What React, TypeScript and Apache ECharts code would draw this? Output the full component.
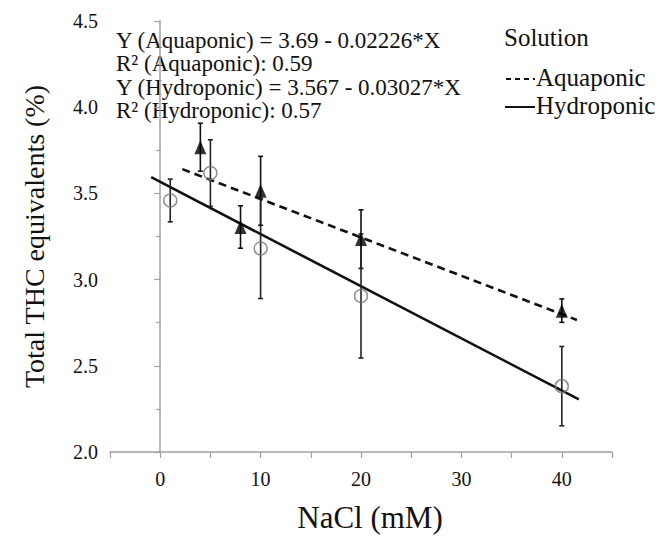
import React, { useEffect, useRef } from "react";
import * as echarts from "echarts";

// ---- data ----
const aquaX = [4, 8, 10, 20, 40];
const aquaMean = [3.768, 3.305, 3.515, 3.235, 2.82];
const aquaErr = [0.139, 0.123, 0.2, 0.17, 0.068];

const hydroX = [1, 5, 10, 20, 40];
const hydroMean = [3.459, 3.618, 3.18, 2.905, 2.382];
const hydroErr = [0.124, 0.193, 0.29, 0.36, 0.23];

// fitted regression lines (endpoints as drawn)
const aquaFitX = [2.2, 41.5];
const aquaFitY = [3.641, 2.766];
const hydroFitX = [-0.9, 41.7];
const hydroFitY = [3.594, 2.305];

const annotationLines = [
  "Y (Aquaponic) = 3.69 - 0.02226*X",
  "R\u00B2 (Aquaponic): 0.59",
  "Y (Hydroponic) = 3.567 - 0.03027*X",
  "R\u00B2 (Hydroponic): 0.57",
];

const legendTitle = "Solution";
const legendNames = ["Aquaponic", "Hydroponic"];

const FONT = "Liberation Serif";
const AXIS_COLOR = "#a0a0a0";

function errorBarSeries(xs: number[], means: number[], errs: number[], color: string) {
  const data = xs.map((x, i) => [x, means[i] - errs[i], means[i] + errs[i]]);
  return {
    type: "custom",
    silent: true,
    z: 2,
    renderItem: (params: any, api: any) => {
      const x = api.value(0);
      const lo = api.coord([x, api.value(1)]);
      const hi = api.coord([x, api.value(2)]);
      const cap = 2.5;
      const style = { stroke: color, lineWidth: 1.6 };
      return {
        type: "group",
        children: [
          { type: "line", shape: { x1: lo[0], y1: lo[1], x2: hi[0], y2: hi[1] }, style },
          { type: "line", shape: { x1: lo[0] - cap, y1: lo[1], x2: lo[0] + cap, y2: lo[1] }, style },
          { type: "line", shape: { x1: hi[0] - cap, y1: hi[1], x2: hi[0] + cap, y2: hi[1] }, style },
        ],
      };
    },
    encode: { x: 0, y: [1, 2] },
    data,
  };
}

export default function App() {
  const ref = useRef<HTMLDivElement>(null);

  useEffect(() => {
    if (!ref.current) return;
    const chart = echarts.init(ref.current, undefined, { renderer: "svg" });

    const annY = [41, 64, 88, 111];

    const option: any = {
      animation: false,
      backgroundColor: "#fff",
      textStyle: { fontFamily: FONT },
      grid: { left: 110, top: 21, width: 502, height: 440, containLabel: false },
      xAxis: {
        type: "value",
        min: -5,
        max: 45,
        interval: 5,
        name: "NaCl (mM)",
        nameLocation: "middle",
        nameGap: 50,
        nameTextStyle: { fontFamily: FONT, fontSize: 31, color: "#111", padding: [0, 0, 0, 18] },
        axisLine: { show: true, lineStyle: { color: AXIS_COLOR, width: 1.5 } },
        axisTick: { show: true, length: 6, lineStyle: { color: AXIS_COLOR, width: 1.2 } },
        splitLine: { show: false },
        axisLabel: {
          fontFamily: FONT,
          fontSize: 20,
          color: "#111",
          margin: 17,
          formatter: (v: number) => (v >= 0 && v <= 40 && v % 10 === 0 ? String(v) : ""),
        },
      },
      yAxis: {
        type: "value",
        min: 2,
        max: 4.5,
        interval: 0.5,
        name: "Total THC equivalents (%)",
        nameLocation: "middle",
        nameRotate: 90,
        nameGap: 62,
        nameTextStyle: { fontFamily: FONT, fontSize: 28, color: "#111" },
        axisLine: { show: true, lineStyle: { color: AXIS_COLOR, width: 1.5 } },
        axisTick: { show: true, length: 6, lineStyle: { color: AXIS_COLOR, width: 1.2 } },
        minorTick: { show: true, splitNumber: 2, length: 4, lineStyle: { color: AXIS_COLOR, width: 1.2 } },
        splitLine: { show: false },
        axisLabel: {
          fontFamily: FONT,
          fontSize: 20,
          color: "#111",
          margin: 12,
          formatter: (v: number) => v.toFixed(1),
        },
      },
      series: [
        {
          name: "Aquaponic fit",
          type: "line",
          symbol: "none",
          z: 1,
          lineStyle: { color: "#111", width: 2.6, type: [8, 5] },
          data: aquaFitX.map((x, i) => [x, aquaFitY[i]]),
        },
        {
          name: "Hydroponic fit",
          type: "line",
          symbol: "none",
          z: 1,
          lineStyle: { color: "#111", width: 2.6, type: "solid" },
          data: hydroFitX.map((x, i) => [x, hydroFitY[i]]),
        },
        errorBarSeries(aquaX, aquaMean, aquaErr, "#111"),
        errorBarSeries(hydroX, hydroMean, hydroErr, "#222"),
        {
          name: "Aquaponic",
          type: "scatter",
          symbol: "triangle",
          symbolSize: [12, 14],
          z: 3,
          itemStyle: { color: "#000" },
          data: aquaX.map((x, i) => [x, aquaMean[i]]),
        },
        {
          name: "Hydroponic",
          type: "scatter",
          symbol: "circle",
          symbolSize: 13,
          z: 3,
          itemStyle: { color: "rgba(255,255,255,0)", borderColor: "#777", borderWidth: 1.5 },
          data: hydroX.map((x, i) => [x, hydroMean[i]]),
        },
      ],
      graphic: [
        ...annotationLines.map((t, i) => ({
          type: "text",
          left: 116,
          top: annY[i] - 12,
          style: { text: t, fontFamily: FONT, fontSize: 23, fill: "#111" },
        })),
        {
          type: "text",
          left: 504,
          top: 25,
          style: { text: legendTitle, fontFamily: FONT, fontSize: 25, fill: "#111" },
        },
        {
          type: "line",
          shape: { x1: 506, y1: 79, x2: 535, y2: 79 },
          style: { stroke: "#111", lineWidth: 2, lineDash: [5, 4] },
        },
        {
          type: "text",
          left: 536,
          top: 65,
          style: { text: legendNames[0], fontFamily: FONT, fontSize: 25, fill: "#111" },
        },
        {
          type: "line",
          shape: { x1: 505, y1: 107, x2: 535, y2: 107 },
          style: { stroke: "#111", lineWidth: 2 },
        },
        {
          type: "text",
          left: 536,
          top: 93,
          style: { text: legendNames[1], fontFamily: FONT, fontSize: 25, fill: "#111" },
        },
      ],
    };

    chart.setOption(option);
    return () => chart.dispose();
  }, []);

  return (
    <div
      ref={ref}
      style={{ position: "fixed", left: 0, top: 0, width: 666, height: 538 }}
    />
  );
}
